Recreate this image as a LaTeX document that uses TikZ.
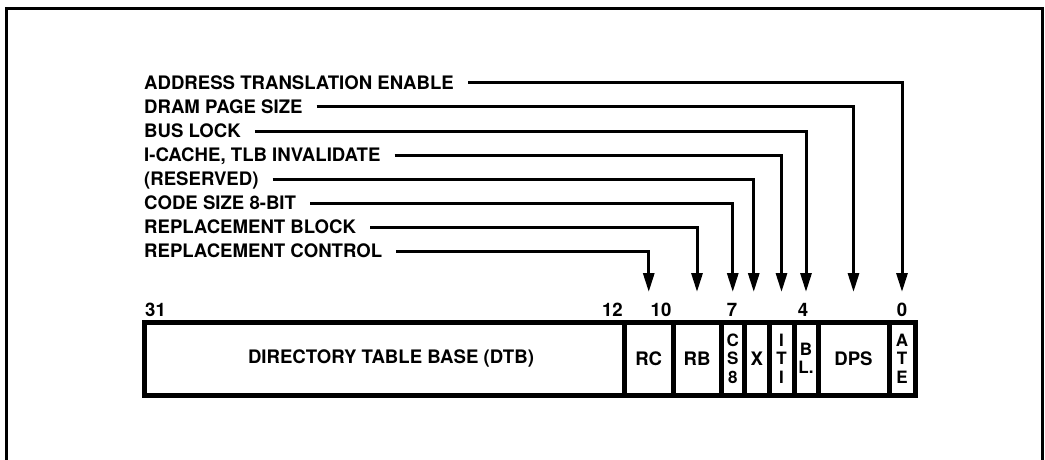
\documentclass[tikz,border=0pt]{standalone}
\usepackage{fontspec}
\setmainfont{TeX Gyre Heros}
\usetikzlibrary{arrows.meta,calc}
\begin{document}
\begin{tikzpicture}[x=1pt,y=-1pt,
  lbl/.style={font=\fontsize{18.6}{20}\selectfont\bfseries, inner sep=0pt, text height=13.4pt, text depth=0pt, anchor=west},
  conn/.style={line width=3pt, -{Triangle[length=19pt,width=11pt]}},
  field/.style={draw, line width=5pt, minimum height=73pt, inner sep=0pt, font=\fontsize{18.6}{20}\selectfont\bfseries},
  vfield/.style={field, align=center, font=\fontsize{17}{18.5}\selectfont\bfseries},
  bitno/.style={font=\fontsize{18.6}{20}\selectfont\bfseries, inner sep=0pt}
]
\useasboundingbox (0,0) rectangle (1045,460);
% outer frame (open at the bottom)
\draw[line width=3pt] (6.5,460) -- (6.5,9) -- (1042,9) -- (1042,460);

% register fields
\node[field, minimum width=480pt] (f-dtb) at (384.5,358.5) {\hspace*{13pt}DIRECTORY TABLE BASE (DTB)};
\node[field, minimum width=48.5pt] (f-rc) at (648.75,358.5) {RC};
\node[field, minimum width=48pt] (f-rb) at (697,358.5) {RB};
\node[vfield, minimum width=23.5pt] (f-cs) at (732.75,358.5) {C\\S\\8};
\node[field, minimum width=24.5pt] (f-x) at (756.75,358.5) {X};
\node[vfield, minimum width=25pt] (f-iti) at (781.5,358.5) {I\\T\\I};
\node[vfield, minimum width=24pt] (f-bl) at (806,358.5) {B\\L.};
\node[field, minimum width=71pt] (f-dps) at (853.5,358.5) {DPS};
\node[vfield, minimum width=26pt] (f-ate) at (902,358.5) {A\\T\\E};

% bit numbers
\node[bitno, anchor=base west] (b31) at (145,316) {31};
\node[bitno, anchor=base east] (b12) at (623,316) {12};
\node[bitno, anchor=base] (b10) at (661,316) {10};
\node[bitno, anchor=base] (b7) at (732,316) {7};
\node[bitno, anchor=base] (b4) at (803,316) {4};
\node[bitno, anchor=base] (b0) at (902,316) {0};

% labels
\node[lbl] (l-ate) at (144,83) {ADDRESS TRANSLATION ENABLE};
\node[lbl] (l-dps) at (144,107) {DRAM PAGE SIZE};
\node[lbl] (l-bl) at (144,131) {BUS LOCK};
\node[lbl] (l-iti) at (144,155) {I-CACHE, TLB INVALIDATE};
\node[lbl] (l-x) at (144,179) {(RESERVED)};
\node[lbl] (l-cs) at (144,203) {CODE SIZE 8-BIT};
\node[lbl] (l-rb) at (144,227) {REPLACEMENT BLOCK};
\node[lbl] (l-rc) at (144,251) {REPLACEMENT CONTROL};

\coordinate (arrowrow) at (0,292);

% connectors
\draw[conn] ([xshift=14pt]l-ate.east) -| (f-ate.north |- arrowrow);
\draw[conn] ([xshift=14pt]l-dps.east) -| (f-dps.north |- arrowrow);
\draw[conn] ([xshift=14pt]l-bl.east) -| (f-bl.north |- arrowrow);
\draw[conn] ([xshift=14pt]l-iti.east) -| (f-iti.north |- arrowrow);
\draw[conn] ([xshift=14pt]l-x.east) -| ([xshift=-3pt]f-x.north |- arrowrow);
\draw[conn] ([xshift=14pt]l-cs.east) -| (f-cs.north |- arrowrow);
\draw[conn] ([xshift=14pt]l-rb.east) -| (f-rb.north |- arrowrow);
\draw[conn] ([xshift=14pt]l-rc.east) -| (f-rc.north |- arrowrow);
\end{tikzpicture}
\end{document}
